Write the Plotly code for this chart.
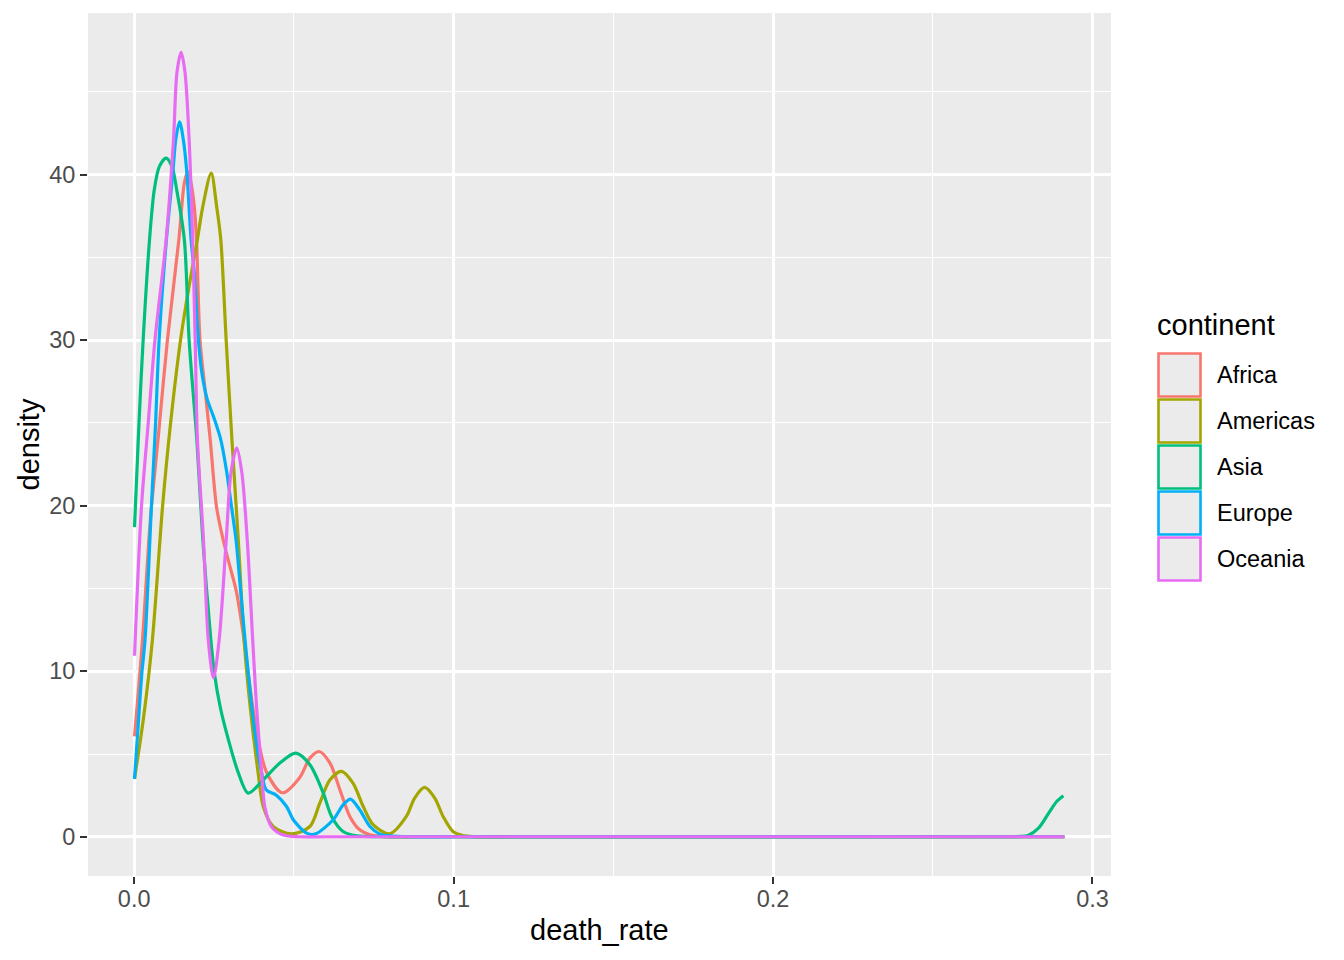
import plotly.graph_objects as go

# ---------------- data ----------------
continents = ["Africa", "Americas", "Asia", "Europe", "Oceania"]
colors = ["#F8766D", "#A3A500", "#00BF7D", "#00B0F6", "#E76BF3"]

x_africa = [0.0001, 0.0026, 0.0050, 0.0077, 0.0104, 0.0140, 0.0149, 0.0157, 0.0168,
            0.0178, 0.0188, 0.0195, 0.0206, 0.0222, 0.0238, 0.0258, 0.0279, 0.0305, 0.0319,
            0.0344, 0.0357, 0.0371, 0.0388, 0.0415, 0.0464, 0.0519, 0.0550, 0.0579, 0.0613,
            0.0644, 0.0675, 0.0706, 0.0738, 0.0784, 0.0900, 0.2912]
y_africa = [6.06, 11.9, 19.0, 24.5, 30.0, 36.1, 38.1, 39.5, 40.2,
            39.5, 38.1, 36.1, 30.0, 27.0, 24.0, 19.9, 17.9, 15.95, 14.9,
            11.9, 9.9, 7.87, 5.86, 3.87, 2.66, 3.6, 4.75, 5.15, 4.45,
            2.84, 1.23, 0.42, 0.12, 0.0, 0.0, 0.0]

x_americas = [0.0001, 0.0030, 0.0057, 0.0089, 0.0114, 0.0145, 0.0170,
              0.0198, 0.0215, 0.0241, 0.0258, 0.0271, 0.0288, 0.0306, 0.0326, 0.0344, 0.0363,
              0.0388, 0.0404, 0.0435, 0.0492, 0.0550, 0.0581, 0.0613, 0.0649, 0.0685, 0.0717,
              0.0748, 0.0800, 0.0852, 0.0878, 0.0909, 0.0941, 0.0967, 0.0998, 0.1029, 0.1066,
              0.1200, 0.2912]
y_americas = [3.5, 7.3, 11.9, 20.0, 25.0, 30.0, 33.05,
              36.1, 38.1, 40.1, 38.1, 36.1, 30.0, 24.0, 17.9, 11.9, 7.87,
              3.87, 1.83, 0.62, 0.17, 0.62, 2.03, 3.44, 3.95, 3.24, 1.83,
              0.73, 0.18, 1.23, 2.34, 2.98, 2.34, 1.23, 0.32, 0.08, 0.01,
              0.0, 0.0]

x_asia = [0.0001, 0.0015, 0.0028, 0.0048, 0.0063, 0.0079, 0.0100, 0.0118, 0.0133, 0.0157,
          0.0172, 0.0196, 0.0215, 0.0240, 0.0251, 0.0269, 0.0295, 0.0326, 0.0357, 0.0404,
          0.0456, 0.0506, 0.0550, 0.0592, 0.0618, 0.0654, 0.0696, 0.0770, 0.0900, 0.2700,
          0.2775, 0.2800, 0.2831, 0.2863, 0.2888, 0.2909]
y_asia = [18.71, 25.0, 30.0, 36.07, 39.1, 40.5, 41.0, 40.5, 39.1, 36.07,
          30.0, 24.0, 17.9, 11.9, 9.9, 7.87, 5.86, 3.87, 2.64, 3.44,
          4.45, 5.05, 4.35, 2.64, 1.23, 0.32, 0.06, 0.0, 0.0, 0.0,
          0.02, 0.1, 0.52, 1.43, 2.13, 2.48]

x_europe = [0.0001, 0.0013, 0.0024, 0.0034, 0.0054, 0.0067, 0.0078, 0.0101, 0.0121, 0.0130,
            0.0142, 0.0154, 0.0165, 0.0178, 0.0188, 0.0201, 0.0212, 0.0229, 0.0248, 0.0271,
            0.0290, 0.0305, 0.0319, 0.0333, 0.0347, 0.0357, 0.0368, 0.0381, 0.0399, 0.0413,
            0.0446, 0.0477, 0.0498, 0.0540, 0.0566, 0.0623, 0.0654, 0.0677, 0.0706, 0.0738,
            0.0769, 0.0800, 0.0860, 0.1000, 0.2912]
y_europe = [3.49, 6.87, 9.89, 11.9, 20.0, 25.0, 30.0, 36.1, 40.1, 42.1,
            43.2, 42.1, 40.1, 36.1, 34.1, 30.0, 28.0, 26.4, 25.4, 24.0,
            22.0, 19.9, 17.9, 14.9, 11.9, 9.9, 7.87, 5.86, 3.87, 2.84,
            2.5, 1.83, 1.03, 0.22, 0.16, 1.03, 1.93, 2.28, 1.63, 0.62,
            0.16, 0.06, 0.0, 0.0, 0.0]

x_oceania = [0.0001, 0.0023, 0.0044, 0.0065, 0.0100, 0.0123, 0.0134, 0.0147, 0.0159,
             0.0172, 0.0183, 0.0191, 0.0198, 0.0217, 0.0232, 0.0248, 0.0266, 0.0288, 0.0303,
             0.0321, 0.0337, 0.0354, 0.0371, 0.0383, 0.0399, 0.0409, 0.0430, 0.0467, 0.0520,
             0.0600, 0.2912]
y_oceania = [10.94, 20.0, 25.0, 30.0, 36.07, 42.1, 46.2, 47.4, 46.2,
             42.1, 36.1, 30.0, 24.0, 17.9, 11.9, 9.6, 11.9, 17.9, 22.0,
             23.5, 22.0, 17.9, 11.9, 7.87, 3.87, 1.8, 0.6, 0.1, 0.0,
             0.0, 0.0]

xs = [x_africa, x_americas, x_asia, x_europe, x_oceania]
ys = [y_africa, y_americas, y_asia, y_europe, y_oceania]

x_ticks = [0.0, 0.1, 0.2, 0.3]
x_ticklabels = ["0.0", "0.1", "0.2", "0.3"]
y_ticks = [0, 10, 20, 30, 40]
y_ticklabels = ["0", "10", "20", "30", "40"]

# ---------------- layout geometry ----------------
OFF = 8                      # page body margin of the browser
W, H = 1344 - OFF, 960 - OFF
PL, PR, PT, PB = 88, 1111, 13, 876   # panel edges in window pixels
pw, ph = PR - PL, PB - PT


def px_x(px):
    return (px - PL) / pw


def px_y(py):
    return (PB - py) / ph


fig = go.Figure()
for name, col, x, y in zip(continents, colors, xs, ys):
    fig.add_trace(go.Scatter(
        x=x, y=y, mode="lines", name=name,
        line=dict(color=col, width=3.2, shape="spline", smoothing=0.85),
        showlegend=False, hoverinfo="x+y+name"))

font_family = "Liberation Sans, Arial, Helvetica, sans-serif"

fig.update_layout(
    width=W, height=H,
    margin=dict(l=PL - OFF, r=W - (PR - OFF), t=PT - OFF, b=H - (PB - OFF), pad=0),
    paper_bgcolor="white",
    plot_bgcolor="#EBEBEB",
    font=dict(family=font_family, color="black"),
    showlegend=False,
)

axis_common = dict(
    showgrid=True, gridcolor="white", gridwidth=2.6,
    zeroline=False, showline=False,
    ticks="outside", ticklen=7, tickwidth=2.4, tickcolor="#333333",
    tickfont=dict(size=23.5, color="#4D4D4D", family=font_family),
)

fig.update_xaxes(
    range=[-0.01446, 0.3058],
    tickmode="array", tickvals=x_ticks, ticktext=x_ticklabels,
    ticklabelstandoff=-5,
    minor=dict(dtick=0.05, tick0=0, showgrid=True, gridcolor="white", gridwidth=1.3, ticks=""),
    **axis_common,
)
fig.update_yaxes(
    range=[-2.37, 49.77],
    tickmode="array", tickvals=y_ticks, ticktext=y_ticklabels,
    minor=dict(dtick=5, tick0=0, showgrid=True, gridcolor="white", gridwidth=1.3, ticks=""),
    **axis_common,
)

# axis titles
fig.add_annotation(text="death_rate", xref="paper", yref="paper",
                   x=0.5, y=px_y(930), xanchor="center", yanchor="middle",
                   showarrow=False, font=dict(size=29, color="black"))
fig.add_annotation(text="density", xref="paper", yref="paper",
                   x=px_x(28), y=0.5, xanchor="center", yanchor="middle", textangle=-90,
                   showarrow=False, font=dict(size=29, color="black"))

# manual legend (ggplot style)
fig.add_annotation(text="continent", xref="paper", yref="paper",
                   x=px_x(1155), y=px_y(325), xanchor="left", yanchor="middle",
                   showarrow=False, font=dict(size=29, color="black"))
for i, (name, col) in enumerate(zip(continents, colors)):
    cy = 375 + 46 * i
    fig.add_shape(type="rect", xref="paper", yref="paper",
                  x0=px_x(1158.5), x1=px_x(1200.5), y0=px_y(cy - 21.5), y1=px_y(cy + 21.5),
                  fillcolor="#EBEBEB", line=dict(color=col, width=2.6))
    fig.add_annotation(text=name, xref="paper", yref="paper",
                       x=px_x(1215), y=px_y(cy), xanchor="left", yanchor="middle",
                       showarrow=False, font=dict(size=23.5, color="black"))

fig.write_html("out.html")
